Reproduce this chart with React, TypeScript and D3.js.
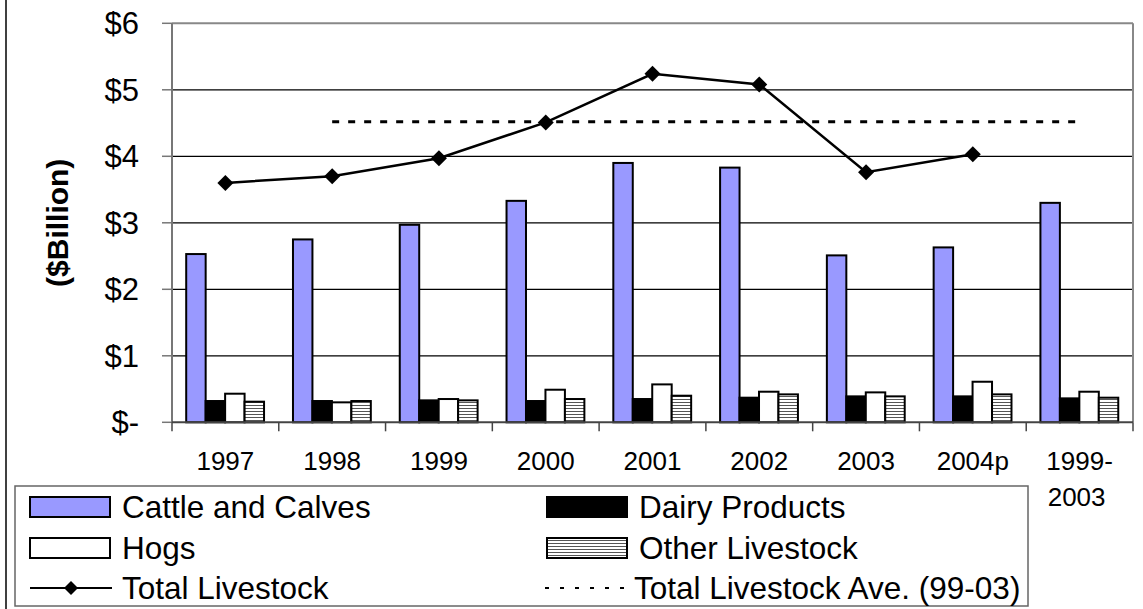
import React from 'react';
import * as d3 from 'd3';

const categories = ['1997', '1998', '1999', '2000', '2001', '2002', '2003', '2004p', '1999-2003'];
const seriesKeys = ['Cattle and Calves', 'Dairy Products', 'Hogs', 'Other Livestock'];
const cattle = [2.53, 2.75, 2.97, 3.33, 3.9, 3.83, 2.51, 2.63, 3.3];
const dairy = [0.32, 0.32, 0.33, 0.32, 0.35, 0.37, 0.39, 0.39, 0.36];
const hogs = [0.43, 0.3, 0.35, 0.49, 0.57, 0.46, 0.45, 0.61, 0.46];
const other = [0.31, 0.32, 0.33, 0.35, 0.4, 0.42, 0.39, 0.42, 0.37];
const totalLivestock = [3.6, 3.7, 3.97, 4.51, 5.24, 5.08, 3.76, 4.03, null];
const totalAve = [null, 4.52, 4.52, 4.52, 4.52, 4.52, 4.52, 4.52, 4.52];
const yTicks = [0, 1, 2, 3, 4, 5, 6];

const W = 1143;
const H = 609;
const FONT = '"Liberation Sans", Arial, sans-serif';
const margin = { top: 23.3, right: 10, bottom: 186.7, left: 172 };

const fills = ['#9999ff', '#000000', '#ffffff', 'url(#hatch)'];

const App: React.FC = () => {
  const plotRight = 1133;
  const plotBottom = H - margin.bottom;

  const x = d3.scaleBand().domain(categories).range([margin.left, plotRight]).padding(0);
  const bw = x.bandwidth();
  const x1 = d3.scaleBand().domain(seriesKeys).range([bw * 0.133, bw * 0.862]).padding(0);
  const y = d3.scaleLinear().domain([0, 6]).range([plotBottom, margin.top]);

  const values = [cattle, dairy, hogs, other];
  const cx = (c: string) => (x(c) || 0) + bw / 2;

  const line = d3.line<number | null>()
    .defined(d => d != null)
    .x((_, i) => cx(categories[i]))
    .y(d => y(d as number));

  const diamond = (px: number, py: number, r: number) =>
    `M${px},${py - r}L${px + r},${py}L${px},${py + r}L${px - r},${py}Z`;

  const tickLabel = (v: number) => (v === 0 ? '$-' : `$${v}`);

  // legend layout
  const legRows = [507, 548, 588];
  const legCols = [30, 547];

  return (
    <svg width={W} height={H} style={{ position: 'absolute', left: 0, top: 0, background: '#fff' }}
      fontFamily={FONT}>
      <defs>
        <pattern id="hatch" width="4" height="3" patternUnits="userSpaceOnUse">
          <rect width="4" height="3" fill="#fff" />
          <line x1="0" x2="4" y1="0.5" y2="0.5" stroke="#555" strokeWidth="1" />
        </pattern>
      </defs>

      {/* outer chart edge */}
      <line x1={6} x2={6} y1={0} y2={H} stroke="#000" strokeWidth={1.5} />

      {/* gridlines */}
      {yTicks.filter(t => t > 0 && t < 6).map(t => (
        <line key={t} x1={margin.left} x2={plotRight} y1={y(t)} y2={y(t)} stroke="#000" strokeWidth={1.2} />
      ))}
      {/* plot border top/right */}
      <line x1={margin.left} x2={plotRight} y1={y(6)} y2={y(6)} stroke="#888" strokeWidth={2} />
      <line x1={plotRight} x2={plotRight} y1={y(6)} y2={plotBottom} stroke="#888" strokeWidth={2} />

      {/* bars */}
      {categories.map((c, i) => (
        <g key={c}>
          {seriesKeys.map((k, j) => (
            <rect key={k}
              x={(x(c) || 0) + (x1(k) || 0)}
              y={y(values[j][i])}
              width={x1.bandwidth()}
              height={plotBottom - y(values[j][i])}
              fill={fills[j]} stroke="#000" strokeWidth={2} />
          ))}
        </g>
      ))}

      {/* y axis */}
      <line x1={margin.left} x2={margin.left} y1={y(6)} y2={plotBottom} stroke="#777" strokeWidth={2} />
      {yTicks.map(t => (
        <g key={t}>
          <line x1={162} x2={margin.left} y1={y(t)} y2={y(t)} stroke="#777" strokeWidth={1.5} />
          <text x={139} y={y(t)} dy="0.35em" textAnchor="end" fontSize={31}>{tickLabel(t)}</text>
        </g>
      ))}
      <text transform={`translate(${68},${y(3)}) rotate(-90)`} textAnchor="middle" fontSize={30}
        fontWeight="bold">($Billion)</text>

      {/* x axis */}
      <line x1={margin.left} x2={plotRight} y1={plotBottom} y2={plotBottom} stroke="#444" strokeWidth={2} />
      {categories.map(c => (
        <line key={c} x1={x(c) || 0} x2={x(c) || 0} y1={plotBottom} y2={plotBottom + 9} stroke="#444" strokeWidth={1.5} />
      ))}
      <line x1={plotRight} x2={plotRight} y1={plotBottom} y2={plotBottom + 9} stroke="#444" strokeWidth={1.5} />
      {categories.map(c => {
        const parts = c === '1999-2003' ? ['1999-', '2003'] : [c];
        return (
          <text key={c} x={cx(c)} y={470} textAnchor="middle" fontSize={26}>
            {parts.map((p, i) => (
              <tspan key={p} x={cx(c) - (parts.length > 1 && i === 1 ? 3 : 0)} dy={i === 0 ? 0 : 36}>{p}</tspan>
            ))}
          </text>
        );
      })}

      {/* lines */}
      <path d={line(totalAve) || ''} fill="none" stroke="#000" strokeWidth={3} strokeDasharray="7 9" />
      <path d={line(totalLivestock) || ''} fill="none" stroke="#000" strokeWidth={2.5} />
      {totalLivestock.map((v, i) => v == null ? null : (
        <path key={i} d={diamond(cx(categories[i]), y(v), 8)} fill="#000" />
      ))}

      {/* legend */}
      <rect x={15} y={486} width={1013} height={120} fill="#fff" stroke="#666" strokeWidth={1.5} />
      {seriesKeys.map((k, j) => {
        const lx = legCols[j % 2];
        const ly = legRows[Math.floor(j / 2)];
        return (
          <g key={k}>
            <rect x={lx} y={ly - 10} width={80} height={20} fill={fills[j]} stroke="#000" strokeWidth={2} />
            <text x={lx + 92} y={ly} dy="0.35em" fontSize={31.5}>{k}</text>
          </g>
        );
      })}
      <g>
        <line x1={30} x2={112} y1={legRows[2]} y2={legRows[2]} stroke="#000" strokeWidth={2} />
        <path d={diamond(71, legRows[2], 7)} fill="#000" />
        <text x={122} y={legRows[2]} dy="0.35em" fontSize={31.5}>Total Livestock</text>
      </g>
      <g>
        <line x1={545} x2={627} y1={legRows[2]} y2={legRows[2]} stroke="#000" strokeWidth={2} strokeDasharray="4 11" />
        <text x={634} y={legRows[2]} dy="0.35em" fontSize={31.5}>Total Livestock Ave. (99-03)</text>
      </g>
    </svg>
  );
};

export default App;
